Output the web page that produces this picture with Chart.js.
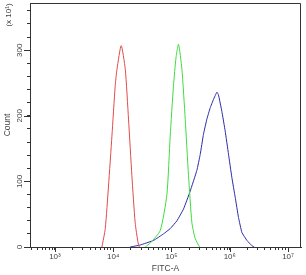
<!DOCTYPE html>
<html>
<head>
<meta charset="utf-8">
<script src="https://cdn.jsdelivr.net/npm/chart.js@4.4.1/dist/chart.umd.min.js"></script>
<style>
    body { margin: 0; background: #fff; }
    #wrap { width: 306px; height: 275px; }
</style>
</head>
<body>
<div id="wrap"><canvas id="chart_canvas" width="306" height="275"></canvas></div>
<script>
/* histogram values: FITC-A intensity vs count (x 10) */

const red_fitc = [6400, 7300, 8300, 9500, 10800, 11600, 13700, 16100, 18300, 20900, 23800, 26500, 28000];
const red_count = [0, 28, 93, 169, 245, 271, 307, 271, 195, 109, 37, 8, 0];

const green_fitc = [35400, 43100, 64000, 83400, 95000, 108000, 120000, 132000, 151000, 172000, 196000, 224000, 255000, 303000];
const green_count = [0, 6, 25, 80, 169, 245, 290, 309, 271, 195, 109, 37, 13, 0];

const blue_fitc = [19600, 29000, 49100, 72900, 95000, 124000, 161000, 209000, 273000, 311000, 354000, 405000,
                   461000, 526000, 601000, 640000, 731000, 834000, 950000, 1087000, 1239000, 1413000, 1617000,
                   1972000, 2400000, 2630000];
const blue_count = [0, 3, 10, 20, 28, 40, 58, 85, 117, 141, 172, 195, 212, 225, 236, 232, 207, 177, 142, 106,
                    76, 45, 22, 10, 2, 0];

const x_decades = [2, 3, 4, 5, 6, 7];
const y_ticks = [0, 20, 40, 60, 80, 100, 120, 140, 160, 180, 200, 220, 240, 260, 280, 300, 320, 340, 360];
const x_min = 373;
const x_max = 1.67e7;
const y_max = 372;

const sup = { '2': '\u00b2', '3': '\u00b3', '4': '\u2074', '5': '\u2075', '6': '\u2076', '7': '\u2077' };
const font_family = '"Liberation Sans", Arial, sans-serif';
const text_colour = '#444';
const axis_colour = '#333';

function points ( xs, ys )
{
    let pts = [];
    for ( let ii = 0; ii < xs.length; ++ii )
    {
        pts.push( { x: xs[ii], y: ys[ii] } );
    }
    return pts;
}

// all 1..9 x 10^k positions inside the range
let x_tick_values = [];
for ( let d of x_decades )
{
    for ( let m = 1; m <= 9; ++m )
    {
        let v = m * Math.pow(10, d);
        if ( v >= x_min && v <= x_max ) x_tick_values.push(v);
    }
}

function is_decade ( v )
{
    let l = Math.log10(v);
    return Math.abs(l - Math.round(l)) < 1e-9;
}

/* box, longer major ticks, rotated y labels */
const decorations =
{
    id: 'decorations',
    afterDraw: function ( chart )
    {
        const ctx = chart.ctx;
        const area = chart.chartArea;
        const xs = chart.scales.x;
        const ys = chart.scales.y;

        ctx.save();
        ctx.strokeStyle = axis_colour;
        ctx.lineWidth = 1;

        // top and right sides of the box
        ctx.beginPath();
        ctx.moveTo(area.left, area.top + 0.5);
        ctx.lineTo(area.right - 0.5, area.top + 0.5);
        ctx.lineTo(area.right - 0.5, area.bottom);
        ctx.stroke();

        // major tick extensions
        ctx.beginPath();
        for ( let v of x_tick_values )
        {
            if ( !is_decade(v) ) continue;
            let px = Math.round(xs.getPixelForValue(v)) + 0.5;
            ctx.moveTo(px, area.bottom);
            ctx.lineTo(px, area.bottom + 5);
        }
        for ( let v of y_ticks )
        {
            if ( v % 100 != 0 ) continue;
            let py = Math.round(ys.getPixelForValue(v)) + 0.5;
            ctx.moveTo(area.left, py);
            ctx.lineTo(area.left - 6, py);
        }
        ctx.stroke();

        // y tick labels, reading upwards
        ctx.fillStyle = text_colour;
        ctx.font = '8px ' + font_family;
        ctx.textAlign = 'center';
        ctx.textBaseline = 'middle';
        for ( let v of y_ticks )
        {
            if ( v % 100 != 0 ) continue;
            ctx.save();
            ctx.translate(area.left - 10, ys.getPixelForValue(v));
            ctx.rotate(-Math.PI / 2);
            ctx.fillText(String(v), 0, 0);
            ctx.restore();
        }

        // multiplier note at the top of the y axis
        ctx.save();
        ctx.translate(9, 15);
        ctx.rotate(-Math.PI / 2);
        ctx.fillText('(x 10\u00b9)', 0, 0);
        ctx.restore();

        ctx.restore();
    }
};

const data =
{
    datasets: [
        {
            label: 'red',
            data: points(red_fitc, red_count),
            borderColor: '#e24a4a',
            borderWidth: 1,
            pointRadius: 0,
            tension: 0.2
        },
        {
            label: 'green',
            data: points(green_fitc, green_count),
            borderColor: '#3fdc3f',
            borderWidth: 1,
            pointRadius: 0,
            tension: 0.2
        },
        {
            label: 'blue',
            data: points(blue_fitc, blue_count),
            borderColor: '#2b2ba6',
            borderWidth: 1,
            pointRadius: 0,
            tension: 0.1
        }
    ]
};

const options =
{
    responsive: false,
    animation: false,
    maintainAspectRatio: false,
    layout: { padding: { top: 3, right: 5, left: 0, bottom: 0 } },
    plugins:
    {
        legend: { display: false },
        tooltip: { enabled: false }
    },
    scales:
    {
        x:
        {
            type: 'logarithmic',
            min: x_min,
            max: x_max,
            afterBuildTicks: function ( scale )
            {
                scale.ticks = x_tick_values.map(v => ({ value: v }));
            },
            afterFit: function ( scale ) { scale.height = 28; },
            border: { display: true, color: axis_colour, width: 1 },
            grid: { display: true, drawOnChartArea: false, tickLength: 3, color: axis_colour },
            ticks:
            {
                autoSkip: false,
                maxRotation: 0,
                minRotation: 0,
                padding: 2,
                color: text_colour,
                font: { family: font_family, size: 8 },
                callback: function ( value )
                {
                    if ( !is_decade(value) ) return '';
                    return '10' + sup[String(Math.round(Math.log10(value)))];
                }
            },
            title:
            {
                display: true,
                text: 'FITC-A',
                color: text_colour,
                font: { family: font_family, size: 8.5 },
                padding: { top: 0, bottom: 1 }
            }
        },
        y:
        {
            type: 'linear',
            min: 0,
            max: y_max,
            afterBuildTicks: function ( scale )
            {
                scale.ticks = y_ticks.map(v => ({ value: v }));
            },
            afterFit: function ( scale ) { scale.width = 30; },
            border: { display: true, color: axis_colour, width: 1 },
            grid: { display: true, drawOnChartArea: false, tickLength: 3, color: axis_colour },
            ticks: { display: false },
            title:
            {
                display: true,
                text: 'Count',
                color: text_colour,
                font: { family: font_family, size: 8.5 },
                padding: { top: 3, bottom: 0 }
            }
        }
    }
};

const config = { type: 'line', data: data, options: options, plugins: [ decorations ] };
const chart = new Chart( document.getElementById('chart_canvas'), config );
</script>
</body>
</html>
